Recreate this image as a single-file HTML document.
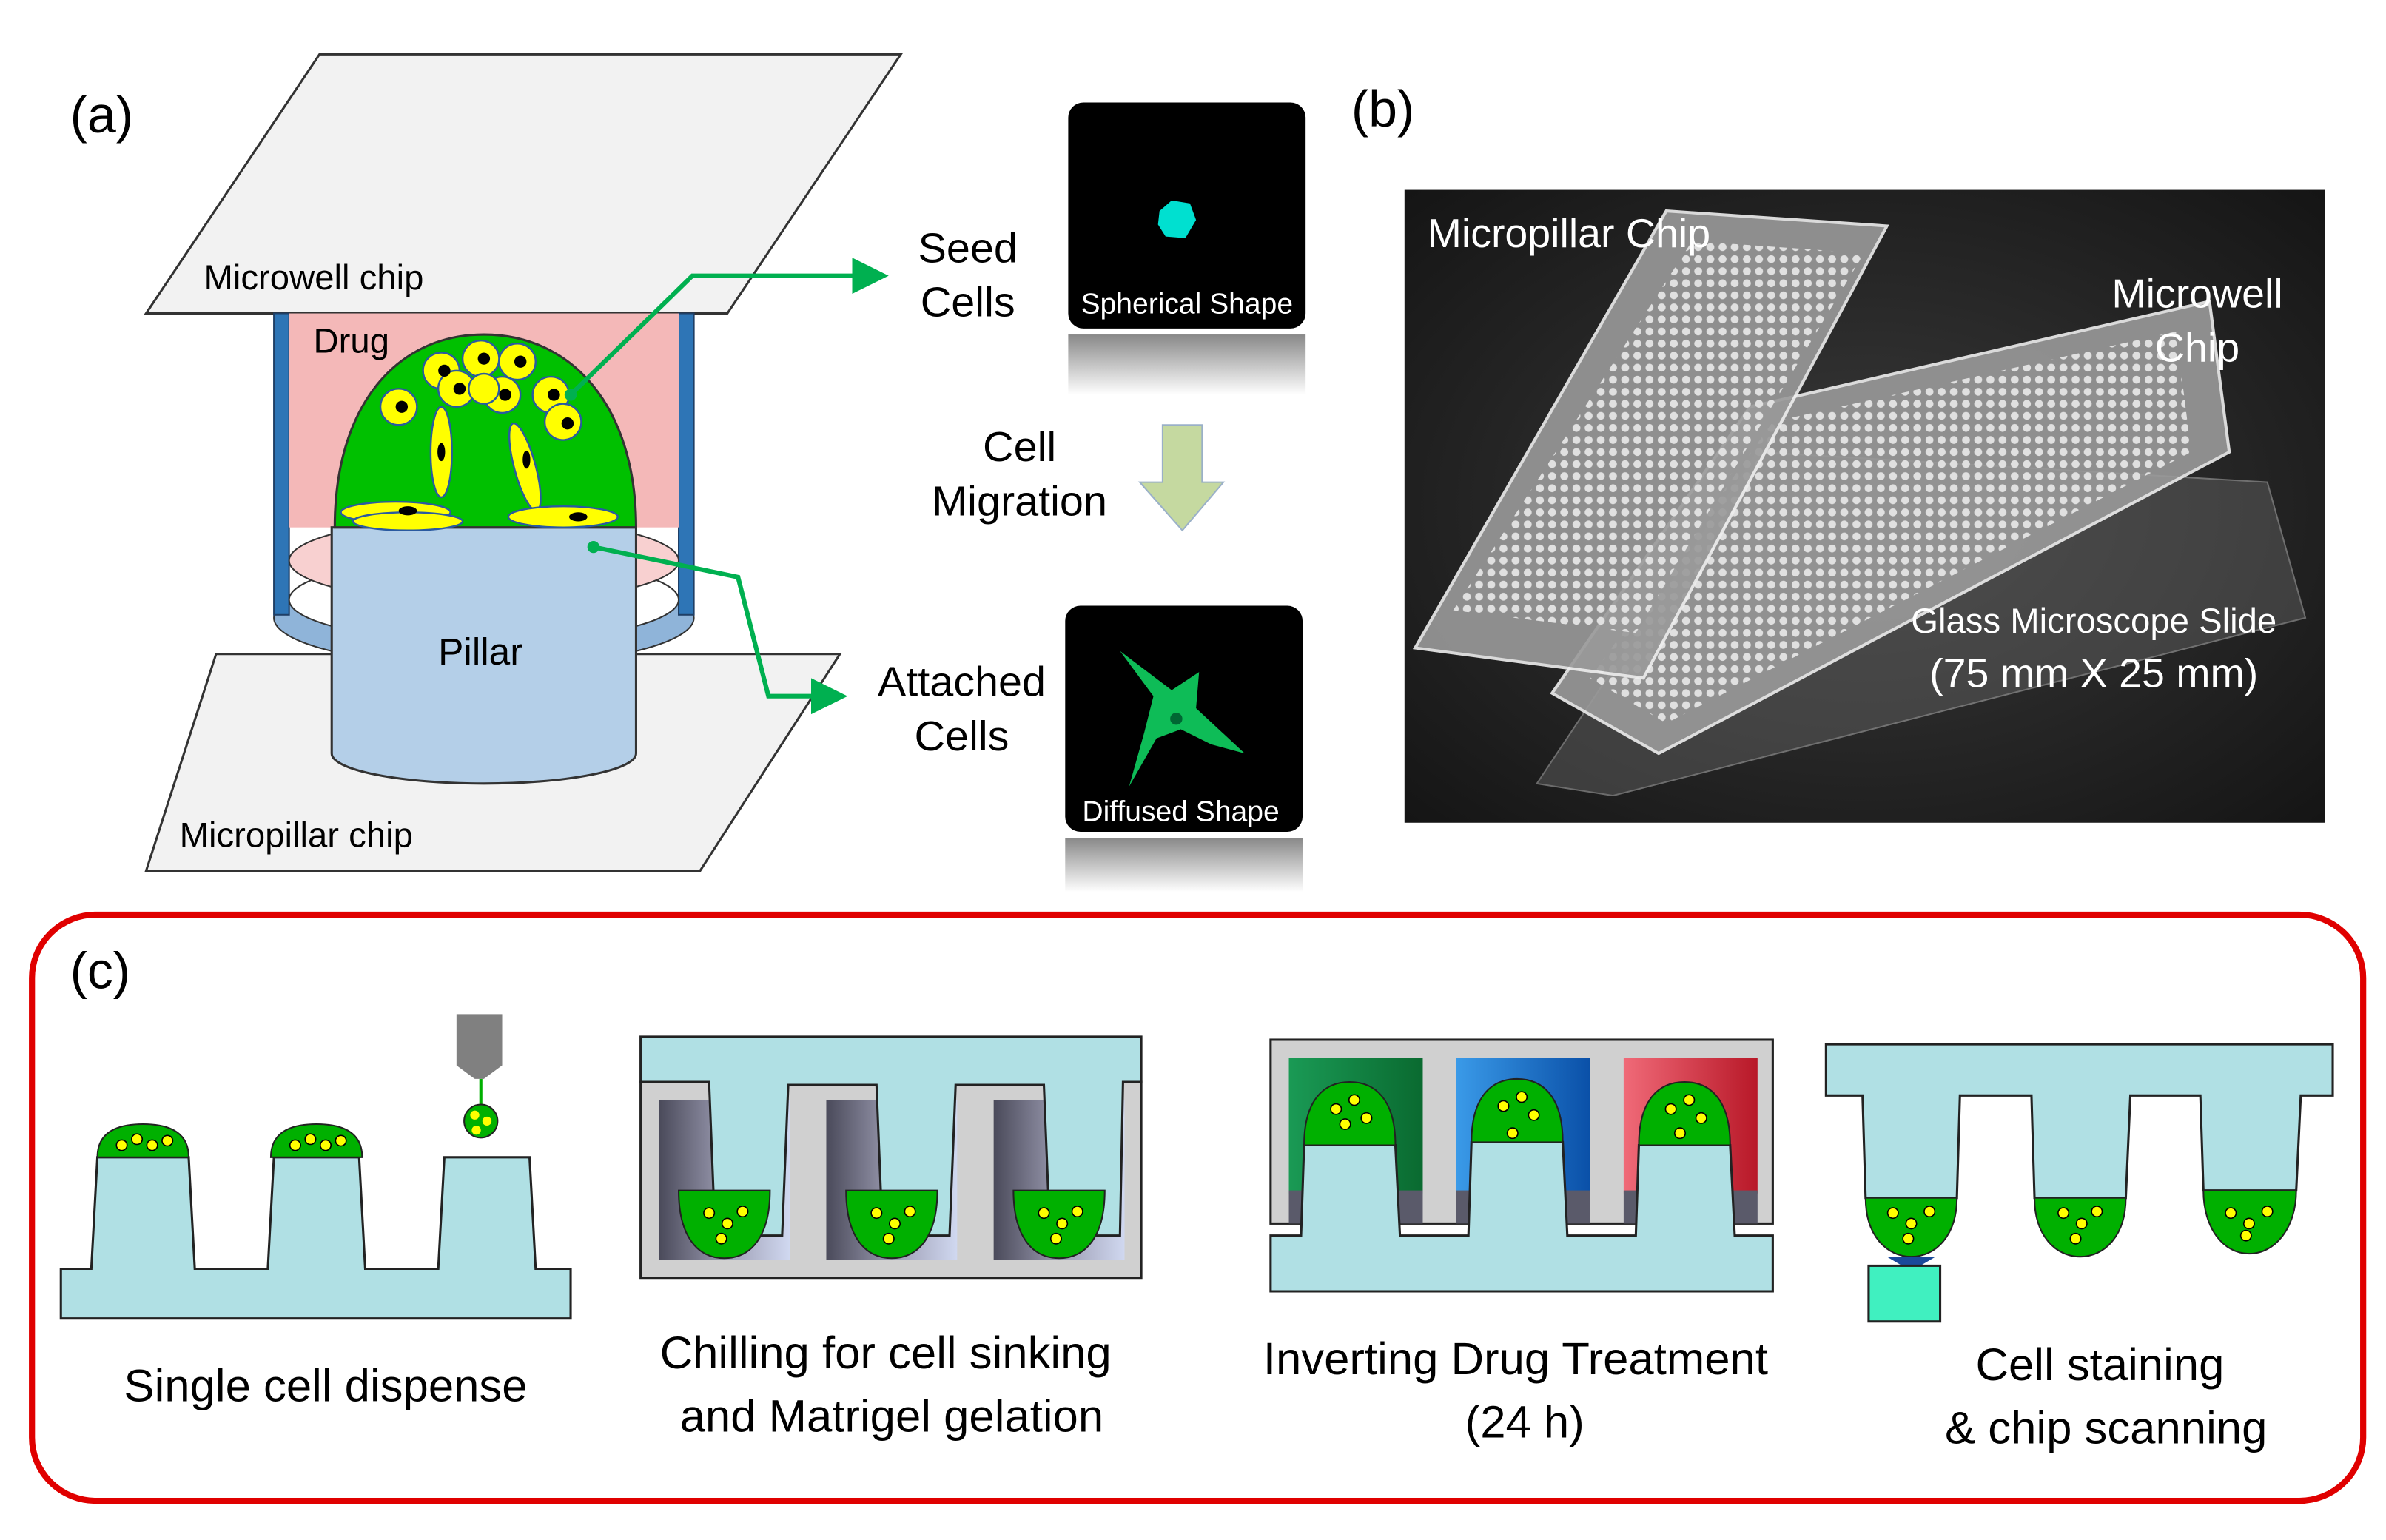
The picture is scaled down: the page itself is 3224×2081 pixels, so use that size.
<!DOCTYPE html>
<html><head><meta charset="utf-8"><style>
html,body{margin:0;padding:0;background:#fff;}
svg{display:block;}
text{font-family:"Liberation Sans",sans-serif;}
</style></head><body>
<svg width="3224" height="2081" viewBox="0 0 1568 1022" preserveAspectRatio="none" xmlns="http://www.w3.org/2000/svg">
<defs>
<linearGradient id="refl" x1="0" y1="0" x2="0" y2="1"><stop offset="0" stop-color="#888"/><stop offset="1" stop-color="#fff"/></linearGradient>
<radialGradient id="photo" cx="0.5" cy="0.5" r="0.7"><stop offset="0" stop-color="#3a3a3a"/><stop offset="1" stop-color="#151515"/></radialGradient>
<pattern id="dots" width="8" height="8" patternUnits="userSpaceOnUse"><circle cx="4" cy="4" r="2.6" fill="#e0e0e0"/></pattern>
<linearGradient id="gw" x1="0" x2="1"><stop offset="0" stop-color="#1a9a55"/><stop offset="1" stop-color="#0a6a30"/></linearGradient>
<linearGradient id="bw" x1="0" x2="1"><stop offset="0" stop-color="#3a9ae8"/><stop offset="1" stop-color="#0a50a8"/></linearGradient>
<linearGradient id="rw" x1="0" x2="1"><stop offset="0" stop-color="#f06a78"/><stop offset="1" stop-color="#b81828"/></linearGradient>
<linearGradient id="wellg" x1="0" x2="1"><stop offset="0" stop-color="#4a4a5a"/><stop offset="0.5" stop-color="#9a9ab0"/><stop offset="1" stop-color="#d0d8f0"/></linearGradient>
<marker id="ah" markerWidth="8" markerHeight="8" refX="5" refY="4" orient="auto" markerUnits="strokeWidth"><path d="M0,0 L8,4 L0,8 z" fill="#00b050"/></marker>
</defs>

<!-- Panel a -->
<text x="46" y="88" font-size="34">(a)</text>
<polygon points="210,36 592,36 478,208 96,208" fill="#f2f2f2" stroke="#333" stroke-width="1.5"/>
<polygon points="142,434 552,434 460,578 96,578" fill="#f2f2f2" stroke="#333" stroke-width="1.5"/>
<ellipse cx="318" cy="410" rx="138" ry="32" fill="#8fb4d9" stroke="#333"/>
<rect x="180" y="208" width="10" height="200" fill="#2e75b6" stroke="#1f3f66"/>
<rect x="446" y="208" width="10" height="200" fill="#2e75b6" stroke="#1f3f66"/>
<ellipse cx="318" cy="398" rx="128" ry="28" fill="#fff" stroke="#333"/>
<rect x="190" y="208" width="256" height="142" fill="#f4b8b8"/>
<ellipse cx="318" cy="372" rx="128" ry="28" fill="#f8d0d0" stroke="#333"/>
<path d="M218,350 L218,500 A100,20 0 0 0 418,500 L418,350 Z" fill="#b4cfe8" stroke="#333" stroke-width="1.5"/>
<path d="M220,350 C220,270 260,222 318,222 C376,222 418,270 418,350 Z" fill="#00c000" stroke="#333" stroke-width="1.5"/>
<g fill="#ffff00" stroke="#2a5aa0" stroke-width="1.2">
<circle cx="290" cy="246" r="12"/><circle cx="316" cy="238" r="12"/><circle cx="340" cy="240" r="12"/>
<circle cx="300" cy="258" r="12"/><circle cx="330" cy="262" r="12"/><circle cx="318" cy="258" r="10"/>
<circle cx="262" cy="270" r="12"/><circle cx="362" cy="262" r="12"/><circle cx="370" cy="280" r="12"/>
<ellipse cx="290" cy="300" rx="7" ry="30"/><ellipse cx="345" cy="310" rx="7" ry="30" transform="rotate(-15 345 310)"/>
<ellipse cx="260" cy="340" rx="36" ry="7"/><ellipse cx="268" cy="346" rx="36" ry="6"/><ellipse cx="370" cy="343" rx="36" ry="7"/>
</g>
<g fill="#000">
<circle cx="292" cy="246" r="4"/><circle cx="318" cy="238" r="4"/><circle cx="342" cy="240" r="4"/><circle cx="302" cy="258" r="4"/>
<circle cx="332" cy="262" r="4"/><circle cx="264" cy="270" r="4"/><circle cx="364" cy="262" r="4"/><circle cx="373" cy="281" r="4"/>
<ellipse cx="290" cy="300" rx="2.5" ry="6"/><ellipse cx="346" cy="305" rx="2.5" ry="6"/>
<ellipse cx="268" cy="339" rx="6" ry="3"/><ellipse cx="380" cy="343" rx="6" ry="3"/>
</g>
<text x="206" y="234" font-size="23">Drug</text>
<text x="288" y="441" font-size="25">Pillar</text>
<text x="134" y="192" font-size="23">Microwell chip</text>
<text x="118" y="562" font-size="23">Micropillar chip</text>
<circle cx="375" cy="262" r="4" fill="#00b050"/>
<polyline points="375,262 455,183 575,183" fill="none" stroke="#00b050" stroke-width="3" marker-end="url(#ah)"/>
<circle cx="390" cy="363" r="4" fill="#00b050"/>
<polyline points="390,363 485,383 505,462 548,462" fill="none" stroke="#00b050" stroke-width="3" marker-end="url(#ah)"/>
<text x="636" y="174" font-size="28" text-anchor="middle">Seed</text>
<text x="636" y="210" font-size="28" text-anchor="middle">Cells</text>
<text x="670" y="306" font-size="28" text-anchor="middle">Cell</text>
<text x="670" y="342" font-size="28" text-anchor="middle">Migration</text>
<text x="632" y="462" font-size="28" text-anchor="middle">Attached</text>
<text x="632" y="498" font-size="28" text-anchor="middle">Cells</text>
<polygon points="764,282 790,282 790,320 804,320 777,352 749,320 764,320" fill="#c5d9a0" stroke="#9ab0c8"/>
<rect x="702" y="222" width="156" height="40" fill="url(#refl)"/>
<rect x="702" y="68" width="156" height="150" rx="10" fill="#000"/>
<polygon points="762,140 770,133 782,135 786,146 779,158 766,157 761,149" fill="#00e0d0"/>
<text x="780" y="208" font-size="19" fill="#fff" text-anchor="middle">Spherical Shape</text>
<rect x="700" y="556" width="156" height="36" fill="url(#refl)"/>
<rect x="700" y="402" width="156" height="150" rx="10" fill="#000"/>
<path d="M736,432 L770,458 L788,446 L786,470 L818,500 L796,494 L776,484 L760,490 L742,522 L752,486 L758,462 Z" fill="#10d060" opacity="0.9"/>
<circle cx="773" cy="477" r="4" fill="#063"/>
<text x="776" y="545" font-size="19" fill="#fff" text-anchor="middle">Diffused Shape</text>

<!-- Panel b -->
<text x="888" y="84" font-size="34">(b)</text>
<rect x="923" y="126" width="605" height="420" fill="url(#photo)"/>
<polygon points="1155,300 1490,320 1515,410 1060,528 1010,520" fill="#666" opacity="0.45" stroke="#ccc" stroke-width="1"/>
<polygon points="1150,270 1452,200 1465,300 1090,500 1020,460" fill="#9a9a9a" opacity="0.9" stroke="#eee" stroke-width="2"/>
<polygon points="1165,280 1430,220 1440,300 1095,480 1045,450" fill="url(#dots)"/>
<polygon points="1095,140 1240,150 1080,450 930,430" fill="#9a9a9a" opacity="0.9" stroke="#eee" stroke-width="2"/>
<polygon points="1112,160 1225,168 1075,420 955,405" fill="url(#dots)"/>
<text x="938" y="164" font-size="27" fill="#fff">Micropillar Chip</text>
<text x="1444" y="204" font-size="27" fill="#fff" text-anchor="middle">Microwell</text>
<text x="1444" y="240" font-size="27" fill="#fff" text-anchor="middle">Chip</text>
<text x="1376" y="420" font-size="23" fill="#fff" text-anchor="middle">Glass Microscope Slide</text>
<text x="1376" y="456" font-size="27" fill="#fff" text-anchor="middle">(75 mm X 25 mm)</text>

<!-- Panel c -->
<rect x="21" y="607" width="1532" height="389" rx="42" fill="#fff" stroke="#e00000" stroke-width="4"/>
<text x="46" y="656" font-size="34">(c)</text>

<!-- c1 -->
<path d="M40,842 L60,842 L64,768 L124,768 L128,842 L176,842 L180,768 L236,768 L240,842 L288,842 L292,768 L348,768 L352,842 L375,842 L375,875 L40,875 Z" fill="#b0e0e4" stroke="#222" stroke-width="1.5"/>
<path d="M64,768 C64,752 76,746 94,746 C112,746 124,752 124,768 Z" fill="#00b000" stroke="#222"/>
<path d="M178,768 C178,752 190,746 208,746 C226,746 238,752 238,768 Z" fill="#00b000" stroke="#222"/>
<g fill="#ff0" stroke="#000" stroke-width="0.8"><circle cx="80" cy="760" r="3.5"/><circle cx="90" cy="756" r="3.5"/><circle cx="100" cy="760" r="3.5"/><circle cx="110" cy="757" r="3.5"/>
<circle cx="194" cy="760" r="3.5"/><circle cx="204" cy="756" r="3.5"/><circle cx="214" cy="760" r="3.5"/><circle cx="224" cy="757" r="3.5"/></g>
<polygon points="300,673 330,673 330,707 318,716 312,716 300,707" fill="#808080"/>
<line x1="316" y1="716" x2="316" y2="734" stroke="#00b000" stroke-width="2"/>
<circle cx="316" cy="744" r="11" fill="#00b000" stroke="#222"/>
<g fill="#ff0"><circle cx="312" cy="740" r="3"/><circle cx="320" cy="744" r="3"/><circle cx="313" cy="750" r="3"/></g>
<text x="214" y="930" font-size="30" text-anchor="middle">Single cell dispense</text>

<!-- c2 -->
<rect x="421" y="718" width="329" height="130" fill="#d0d0d0" stroke="#222" stroke-width="1.5"/>
<rect x="433" y="730" width="86" height="106" fill="url(#wellg)"/>
<rect x="543" y="730" width="86" height="106" fill="url(#wellg)"/>
<rect x="653" y="730" width="86" height="106" fill="url(#wellg)"/>
<path d="M421,688 L750,688 L750,718 L738,718 L736,820 L690,820 L686,720 L628,720 L624,820 L580,820 L576,720 L518,720 L514,820 L470,820 L466,718 L421,718 Z" fill="#b0e0e4" stroke="#222" stroke-width="1.5"/>
<path d="M446,790 L506,790 C506,820 494,835 476,835 C458,835 446,820 446,790 Z" fill="#00b000" stroke="#222"/>
<path d="M556,790 L616,790 C616,820 604,835 586,835 C568,835 556,820 556,790 Z" fill="#00b000" stroke="#222"/>
<path d="M666,790 L726,790 C726,820 714,835 696,835 C678,835 666,820 666,790 Z" fill="#00b000" stroke="#222"/>
<g fill="#ff0" stroke="#000" stroke-width="0.8"><circle cx="466" cy="805" r="3.5"/><circle cx="478" cy="812" r="3.5"/><circle cx="488" cy="804" r="3.5"/><circle cx="474" cy="822" r="3.5"/>
<circle cx="576" cy="805" r="3.5"/><circle cx="588" cy="812" r="3.5"/><circle cx="598" cy="804" r="3.5"/><circle cx="584" cy="822" r="3.5"/>
<circle cx="686" cy="805" r="3.5"/><circle cx="698" cy="812" r="3.5"/><circle cx="708" cy="804" r="3.5"/><circle cx="694" cy="822" r="3.5"/></g>
<text x="582" y="908" font-size="30" text-anchor="middle">Chilling for cell sinking</text>
<text x="586" y="950" font-size="30" text-anchor="middle">and Matrigel gelation</text>

<!-- c3 -->
<rect x="835" y="690" width="330" height="122" fill="#d0d0d0" stroke="#222" stroke-width="1.5"/>
<rect x="847" y="702" width="88" height="90" fill="url(#gw)"/>
<rect x="957" y="702" width="88" height="90" fill="url(#bw)"/>
<rect x="1067" y="702" width="88" height="90" fill="url(#rw)"/>
<rect x="847" y="790" width="88" height="22" fill="#5a5a6a"/><rect x="957" y="790" width="88" height="22" fill="#5a5a6a"/><rect x="1067" y="790" width="88" height="22" fill="#5a5a6a"/>
<path d="M835,820 L855,820 L857,760 L917,760 L920,820 L965,820 L967,758 L1027,758 L1030,820 L1075,820 L1077,760 L1137,760 L1140,820 L1165,820 L1165,857 L835,857 Z" fill="#b0e0e4" stroke="#222" stroke-width="1.5"/>
<path d="M857,760 C857,730 870,718 887,718 C904,718 917,730 917,760 Z" fill="#00b000" stroke="#222"/>
<path d="M967,758 C967,728 980,716 997,716 C1014,716 1027,728 1027,758 Z" fill="#00b000" stroke="#222"/>
<path d="M1077,760 C1077,730 1090,718 1107,718 C1124,718 1137,730 1137,760 Z" fill="#00b000" stroke="#222"/>
<g fill="#ff0" stroke="#000" stroke-width="0.8"><circle cx="878" cy="736" r="3.5"/><circle cx="890" cy="730" r="3.5"/><circle cx="898" cy="742" r="3.5"/><circle cx="884" cy="746" r="3.5"/>
<circle cx="988" cy="734" r="3.5"/><circle cx="1000" cy="728" r="3.5"/><circle cx="1008" cy="740" r="3.5"/><circle cx="994" cy="752" r="3.5"/>
<circle cx="1098" cy="736" r="3.5"/><circle cx="1110" cy="730" r="3.5"/><circle cx="1118" cy="742" r="3.5"/><circle cx="1104" cy="752" r="3.5"/></g>
<text x="996" y="912" font-size="30" text-anchor="middle">Inverting  Drug Treatment</text>
<text x="1002" y="954" font-size="30" text-anchor="middle">(24 h)</text>

<!-- c4 -->
<path d="M1200,693 L1533,693 L1533,727 L1512,727 L1509,790 L1448,790 L1446,727 L1400,727 L1397,795 L1337,795 L1335,727 L1288,727 L1286,795 L1226,795 L1224,727 L1200,727 Z" fill="#b0e0e4" stroke="#222" stroke-width="1.5"/>
<path d="M1226,795 L1286,795 C1286,820 1272,834 1256,834 C1240,834 1226,820 1226,795 Z" fill="#00b000" stroke="#222"/>
<path d="M1337,795 L1397,795 C1397,820 1383,834 1367,834 C1351,834 1337,820 1337,795 Z" fill="#00b000" stroke="#222"/>
<path d="M1448,790 L1509,790 C1509,815 1495,832 1478,832 C1461,832 1448,815 1448,790 Z" fill="#00b000" stroke="#222"/>
<g fill="#ff0" stroke="#000" stroke-width="0.8"><circle cx="1244" cy="805" r="3.5"/><circle cx="1256" cy="812" r="3.5"/><circle cx="1268" cy="804" r="3.5"/><circle cx="1254" cy="822" r="3.5"/>
<circle cx="1356" cy="805" r="3.5"/><circle cx="1368" cy="812" r="3.5"/><circle cx="1378" cy="804" r="3.5"/><circle cx="1364" cy="822" r="3.5"/>
<circle cx="1466" cy="805" r="3.5"/><circle cx="1478" cy="812" r="3.5"/><circle cx="1490" cy="804" r="3.5"/><circle cx="1476" cy="820" r="3.5"/></g>
<polygon points="1240,834 1272,834 1262,840 1250,840" fill="#1a4a9a"/>
<rect x="1228" y="840" width="47" height="37" fill="#40f0c0" stroke="#222" stroke-width="1.5"/>
<text x="1380" y="916" font-size="30" text-anchor="middle">Cell staining</text>
<text x="1384" y="958" font-size="30" text-anchor="middle">&amp; chip scanning</text>
</svg>
</body></html>
